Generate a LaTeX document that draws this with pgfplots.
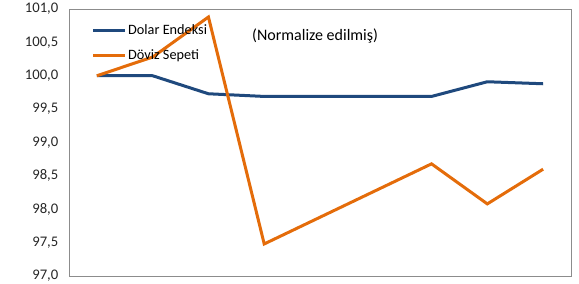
\documentclass[border=0pt]{standalone}
\usepackage{pgfplots}
\pgfplotsset{compat=1.18}
\usepackage{fontspec}
\setmainfont{Carlito}
\definecolor{dblue}{HTML}{1F497D}
\definecolor{dorange}{HTML}{E46C0A}
\begin{document}
\begin{tikzpicture}
\useasboundingbox (-51.75pt,-6pt) rectangle (382.5pt,207pt);
\begin{axis}[
  at={(0,0)}, anchor=south west,
  scale only axis,
  width=376.5pt, height=200.25pt,
  xmin=-0.5, xmax=8.5,
  ymin=97, ymax=101,
  ytick={97,97.5,...,101},
  xtick=\empty,
  major tick length=0pt,
  axis line style={draw=gray!90},
  tick label style={font=\fontsize{11}{12}\selectfont, color=black!85},
  yticklabel style={xshift=-4.5pt},
  /pgf/number format/.cd, fixed, fixed zerofill, precision=1, use comma, assume math mode=true,
  /pgfplots/.cd,
  legend style={draw=none, fill=none, inner sep=0pt, at={(rel axis cs:0.045,0.952)}, anchor=north west,
    font=\fontsize{10.7}{12}\selectfont, row sep=5.5pt,
    nodes={inner xsep=1pt}},
  legend cell align=left,
  legend image code/.code={\draw[#1] (0pt,0pt) -- (24pt,0pt);},
]
\addplot[dblue, line width=2.25pt, line join=round] coordinates {
(0,100.0) (1,100.0) (2,99.73) (3,99.69) (4,99.69) (5,99.69) (6,99.69) (7,99.91) (8,99.88)};
\addlegendentry{Dolar Endeksi}
\addplot[dorange, line width=2.25pt, line join=miter] coordinates {
(0,100.0) (1,100.28) (2,100.88) (3,97.48) (4,97.88) (5,98.28) (6,98.68) (7,98.08) (8,98.60)};
\addlegendentry{Döviz Sepeti}
\node[anchor=west, inner sep=0pt, font=\fontsize{12}{14}\selectfont] at (axis cs:2.78,100.60) {(Normalize edilmiş)};
\end{axis}
\end{tikzpicture}
\end{document}
